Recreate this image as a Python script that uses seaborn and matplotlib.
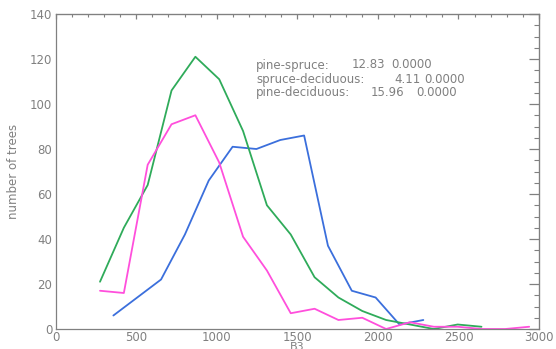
import matplotlib
matplotlib.use("Agg")
import matplotlib.pyplot as plt
from matplotlib.ticker import MultipleLocator
import pandas as pd
import seaborn as sns

# Histogram counts of B3 values per forest type (bin centres and counts)
pine_b3 = [358, 506, 654, 802, 950, 1098, 1246, 1394, 1542, 1690, 1838, 1986, 2134, 2282]
pine_n = [6, 14, 22, 42, 66, 81, 80, 84, 86, 37, 17, 14, 2, 4]

spruce_b3 = [275, 423, 571, 719, 867, 1015, 1163, 1311, 1459, 1607, 1755, 1903,
             2051, 2199, 2347, 2495, 2643]
spruce_n = [21, 45, 64, 106, 121, 111, 88, 55, 42, 23, 14, 8, 4, 2, 0, 2, 1]

decid_b3 = [275, 423, 571, 719, 867, 1015, 1163, 1311, 1459, 1607, 1755, 1903,
            2051, 2199, 2347, 2495, 2643, 2791, 2939]
decid_n = [17, 16, 73, 91, 95, 74, 41, 26, 7, 9, 4, 5, 0, 3, 1, 1, 0, 0, 1]

# Pairwise separability statistics and p-values
pairs = ["pine-spruce:", "spruce-deciduous:", "pine-deciduous:"]
stat_vals = [12.83, 4.11, 15.96]
p_vals = [0.0, 0.0, 0.0]

series = ["pine", "spruce", "deciduous"]
colors = {"pine": "#3b6fdc", "spruce": "#2fab5a", "deciduous": "#ff4fdc"}

frames = []
for name, xs, ys in [("pine", pine_b3, pine_n),
                     ("spruce", spruce_b3, spruce_n),
                     ("deciduous", decid_b3, decid_n)]:
    frames.append(pd.DataFrame({"B3": xs, "count": ys, "type": name}))
df = pd.concat(frames, ignore_index=True)

sns.set_style("white")
plt.rcParams["font.family"] = ["DejaVu Sans"]
GREY = "#808080"
FS = 8.5

fig = plt.figure(figsize=(5.56, 3.49), dpi=100)
W, H = 556, 349
L, R, T, B = 55.7, 539.0, 14.0, 329.0
ax = fig.add_axes([L / W, 1 - B / H, (R - L) / W, (B - T) / H])

sns.lineplot(data=df, x="B3", y="count", hue="type", hue_order=series,
             palette=colors, linewidth=1.3, legend=False, ax=ax,
             estimator=None, sort=False)

ax.set_xlim(0, 3000)
ax.set_ylim(0, 140)
ax.xaxis.set_major_locator(MultipleLocator(500))
ax.xaxis.set_minor_locator(MultipleLocator(100))
ax.yaxis.set_major_locator(MultipleLocator(20))
ax.yaxis.set_minor_locator(MultipleLocator(5))

for sp in ax.spines.values():
    sp.set_visible(True)
    sp.set_color(GREY)
    sp.set_linewidth(0.9)

ax.tick_params(axis="x", which="major", direction="in", length=7.5, width=0.9,
               color=GREY, labelcolor=GREY, labelsize=FS, pad=1.5)
ax.tick_params(axis="x", which="minor", direction="in", length=3.6, width=0.8,
               color=GREY)
ax.tick_params(axis="y", which="major", direction="in", length=4.5, width=0.9,
               color=GREY, labelcolor=GREY, labelsize=FS, pad=2.5)
ax.tick_params(axis="y", which="minor", direction="in", length=2.5, width=0.8,
               color=GREY)

# Mirrored ticks on the top and right frame edges
top = ax.secondary_xaxis("top")
top.xaxis.set_major_locator(MultipleLocator(500))
top.xaxis.set_minor_locator(MultipleLocator(100))
top.tick_params(which="major", direction="in", length=3.8, width=0.9, color=GREY,
                labeltop=False)
top.tick_params(which="minor", direction="in", length=2.0, width=0.8, color=GREY)
top.spines["top"].set_color(GREY)

right = ax.secondary_yaxis("right")
right.yaxis.set_major_locator(MultipleLocator(20))
right.yaxis.set_minor_locator(MultipleLocator(5))
right.tick_params(which="major", direction="in", length=7.5, width=0.9, color=GREY,
                  labelright=False)
right.tick_params(which="minor", direction="in", length=3.6, width=0.8, color=GREY)
right.spines["right"].set_color(GREY)

ax.set_xlabel("B3", color=GREY, fontsize=8, labelpad=-1.5)
ax.set_ylabel("number of trees", color=GREY, fontsize=FS, labelpad=7)

# Statistics block
def fx(px):
    return (px - L) / (R - L)

def fy(py):
    return (B - py) / (B - T)

line_y = [65, 79.3, 92.7]
stat_x = [352, 394, 371]
p_x = [391, 424, 416]
for i in range(len(pairs)):
    ax.text(fx(256), fy(line_y[i]), pairs[i], transform=ax.transAxes,
            color=GREY, fontsize=FS, va="center", ha="left")
    ax.text(fx(stat_x[i]), fy(line_y[i]), f"{stat_vals[i]:.2f}",
            transform=ax.transAxes, color=GREY, fontsize=FS, va="center", ha="left")
    ax.text(fx(p_x[i]), fy(line_y[i]), f"{p_vals[i]:.4f}",
            transform=ax.transAxes, color=GREY, fontsize=FS, va="center", ha="left")

fig.savefig("out.png", dpi=100)
